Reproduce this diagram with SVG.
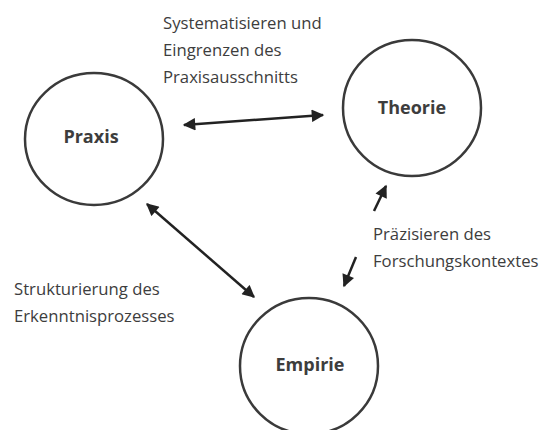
<svg xmlns="http://www.w3.org/2000/svg" width="541" height="430" viewBox="0 0 541 430">
<style>
.node{fill:#fff;stroke:#3a3a3a;stroke-width:2.5}
.nl{font-family:"Open Sans",sans-serif;font-weight:700;font-size:18px;fill:#3d3d3d;text-anchor:middle}
.lbl{font-family:"Open Sans",sans-serif;font-size:16.7px;font-weight:500;fill:#3d3d3d}
.edge{stroke:#222;stroke-width:2.5;fill:none}
</style>
<defs>
<marker id="ah" viewBox="0 0 10 10" refX="9" refY="5" markerWidth="5.5" markerHeight="5" orient="auto-start-reverse" markerUnits="strokeWidth">
<path d="M0,0 L10,5 L0,10 z" fill="#222"/>
</marker>
</defs>
<rect width="541" height="430" fill="#fff"/>
<g id="praxis">
<ellipse class="node" cx="94" cy="139" rx="69" ry="66"/>
<text class="nl" x="91" y="143">Praxis</text>
</g>
<g id="theorie">
<ellipse class="node" cx="412" cy="108" rx="69" ry="68"/>
<text class="nl" x="412" y="114">Theorie</text>
</g>
<g id="empirie">
<ellipse class="node" cx="309" cy="366" rx="69" ry="68"/>
<text class="nl" x="310" y="371">Empirie</text>
</g>
<g id="connectors">
<line class="edge" x1="184" y1="125" x2="323" y2="115" marker-start="url(#ah)" marker-end="url(#ah)"/>
<line class="edge" x1="147" y1="204" x2="254" y2="297" marker-start="url(#ah)" marker-end="url(#ah)"/>
<line class="edge" x1="374" y1="211" x2="386" y2="186" marker-end="url(#ah)"/>
<line class="edge" x1="356" y1="257" x2="344" y2="286" marker-end="url(#ah)"/>
</g>
<g id="labels">
<text class="lbl" x="163" y="29">Systematisieren und</text>
<text class="lbl" x="163" y="56">Eingrenzen des</text>
<text class="lbl" x="163" y="83">Praxisausschnitts</text>
<text class="lbl" x="373" y="240">Präzisieren des</text>
<text class="lbl" x="373" y="267">Forschungskontextes</text>
<text class="lbl" x="14" y="295">Strukturierung des</text>
<text class="lbl" x="14" y="322">Erkenntnisprozesses</text>
</g>
</svg>
